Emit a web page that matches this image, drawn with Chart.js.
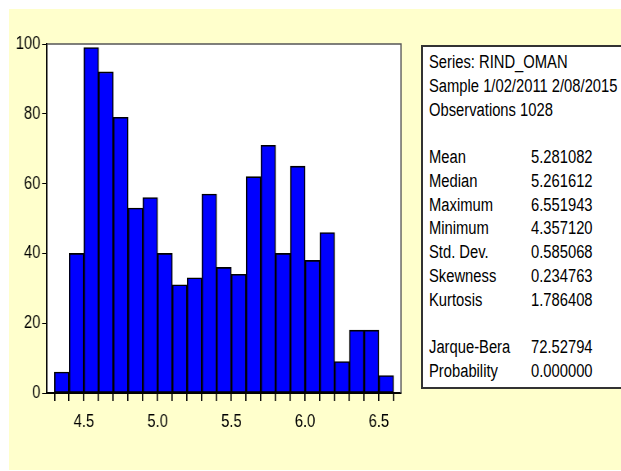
<!DOCTYPE html>
<html>
<head>
<meta charset="utf-8">
<script src="https://cdn.jsdelivr.net/npm/chart.js@4/dist/chart.umd.min.js"></script>
<style>
  body { margin: 0; width: 621px; height: 471px; background: #fff; overflow: hidden; position: relative; }
  #fondo { position: absolute; left: 9px; top: 9px; width: 612px; height: 461px; background: #ffffcc; }
  /* el lienzo se dibuja ancho y se comprime para imitar la letra estrecha */
  #grafico { position: absolute; left: 0; top: 0; transform: scaleX(0.82); transform-origin: 0 0; }
  #stats {
    position: absolute; left: 421px; top: 45px; width: 230px; height: 344px;
    background: #fff; border: 2px solid #333; box-sizing: border-box;
    padding: 4px 0 0 6px;
  }
  #texto {
    transform: scaleX(0.82); transform-origin: 0 0;
    font-family: "Liberation Sans", Arial, sans-serif;
    font-size: 18px; line-height: 23.75px; color: #000; white-space: nowrap;
  }
  #texto .fila { height: 23.75px; }
  #texto .nom { display: inline-block; width: 124.4px; }
</style>
</head>
<body>
<div id="fondo"></div>
<canvas id="grafico" width="757" height="471"></canvas>
<div id="stats"><div id="texto"></div></div>
<script>
// histograma: centro de cada clase y frecuencia
const centrosClase = [4.35, 4.45, 4.55, 4.65, 4.75, 4.85, 4.95, 5.05, 5.15, 5.25, 5.35, 5.45,
                      5.55, 5.65, 5.75, 5.85, 5.95, 6.05, 6.15, 6.25, 6.35, 6.45, 6.55];
const frecuencias = [6, 40, 99, 92, 79, 53, 56, 40, 31, 33, 57, 36,
                     34, 62, 71, 40, 65, 38, 46, 9, 18, 18, 5];

// marcas del eje x (bordes de clase) y las que llevan texto
const marcasX = [4.3, 4.4, 4.5, 4.6, 4.7, 4.8, 4.9, 5.0, 5.1, 5.2, 5.3, 5.4,
                 5.5, 5.6, 5.7, 5.8, 5.9, 6.0, 6.1, 6.2, 6.3, 6.4, 6.5, 6.6];
const etiquetasX = ["4.5", "5.0", "5.5", "6.0", "6.5"];
const marcasY = [0, 20, 40, 60, 80, 100];

// tabla de estadisticos
const cabecera = ["Series: RIND_OMAN", "Sample 1/02/2011 2/08/2015", "Observations 1028"];
const nombresStats = ["Mean", "Median", "Maximum", "Minimum", "Std. Dev.", "Skewness", "Kurtosis"];
const valoresStats = ["5.281082", "5.261612", "6.551943", "4.357120", "0.585068", "0.234763", "1.786408"];
const nombresTest = ["Jarque-Bera", "Probability"];
const valoresTest = ["72.52794", "0.000000"];

const fuente = { family: '"Liberation Sans", Arial, sans-serif', size: 18 };
const k = 0.82; // compresion horizontal del lienzo

let html = "";
cabecera.forEach(t => { html += '<div class="fila">' + t + '</div>'; });
html += '<div class="fila"></div>';
nombresStats.forEach((n, i) => {
    html += '<div class="fila"><span class="nom">' + n + '</span>' + valoresStats[i] + '</div>';
});
html += '<div class="fila"></div>';
nombresTest.forEach((n, i) => {
    html += '<div class="fila"><span class="nom">' + n + '</span>' + valoresTest[i] + '</div>';
});
document.getElementById("texto").innerHTML = html;

// fondo blanco del area y marco gris arriba/derecha
const marco = {
    id: "marco",
    beforeDraw(chart) {
        const a = chart.chartArea, ctx = chart.ctx;
        ctx.save();
        ctx.fillStyle = "#fff";
        ctx.fillRect(a.left, a.top, a.right - a.left, a.bottom - a.top);
        ctx.restore();
    },
    afterDraw(chart) {
        const a = chart.chartArea, ctx = chart.ctx;
        ctx.save();
        ctx.strokeStyle = "#555";
        ctx.lineWidth = 1.5;
        ctx.beginPath();
        ctx.moveTo(a.left, a.top);
        ctx.lineTo(a.right, a.top);
        ctx.lineTo(a.right, a.bottom);
        ctx.stroke();
        ctx.restore();
    }
};

let datos = centrosClase.map((c, i) => ({ x: c, y: frecuencias[i] }));

new Chart(document.getElementById("grafico"), {
    type: "bar",
    data: {
        datasets: [{
            data: datos,
            backgroundColor: "#0000ff",
            borderColor: "#000",
            borderWidth: 1.6,
            borderSkipped: false,
            barPercentage: 1,
            categoryPercentage: 1
        }]
    },
    options: {
        responsive: false,
        animation: false,
        layout: { padding: { left: 0, top: 44, right: 757 - 401 / k, bottom: 38 } },
        plugins: { legend: { display: false }, tooltip: { enabled: false } },
        scales: {
            x: {
                type: "linear",
                min: 4.25,
                max: 6.65,
                offset: false,
                z: 1,
                afterBuildTicks: s => { s.ticks = marcasX.map(v => ({ value: v })); },
                afterFit: s => { s.height = 40; },
                ticks: {
                    autoSkip: false,
                    maxRotation: 0,
                    padding: 10,
                    color: "#000",
                    font: fuente,
                    callback: v => {
                        let t = v.toFixed(1);
                        return etiquetasX.includes(t) ? t : "";
                    }
                },
                grid: { drawOnChartArea: false, offset: false, tickLength: 8, tickColor: "#000", lineWidth: 1.6 },
                border: { color: "#000", width: 2 }
            },
            y: {
                min: 0,
                max: 100,
                afterBuildTicks: s => { s.ticks = marcasY.map(v => ({ value: v })); },
                afterFit: s => { s.width = 47 / k; },
                ticks: { padding: 2, color: "#000", font: fuente },
                grid: { drawOnChartArea: false, tickLength: 6, tickColor: "#000" },
                border: { color: "#000", width: 1.8 }
            }
        }
    },
    plugins: [marco]
});
</script>
</body>
</html>
